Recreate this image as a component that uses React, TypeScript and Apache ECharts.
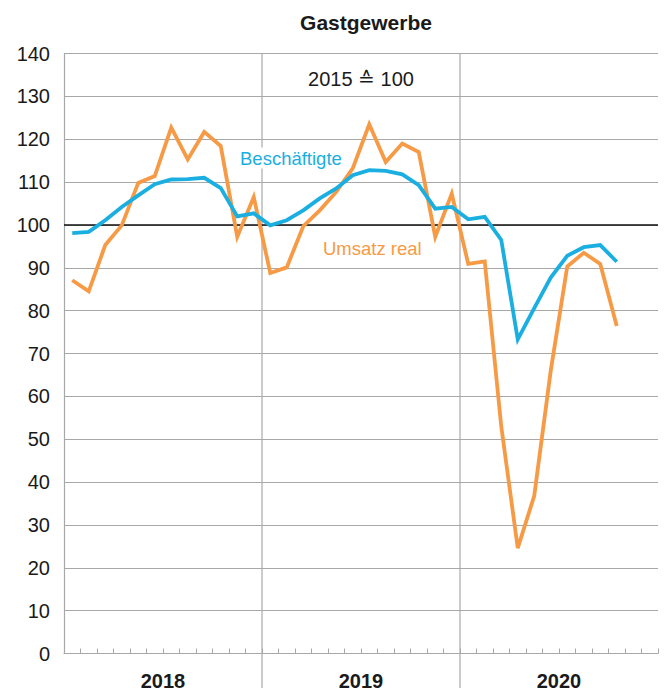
import React, { useEffect, useRef } from "react";
import * as echarts from "echarts";

const months = [
  "Jan 18", "Feb 18", "Mär 18", "Apr 18", "Mai 18", "Jun 18", "Jul 18", "Aug 18", "Sep 18", "Okt 18", "Nov 18", "Dez 18",
  "Jan 19", "Feb 19", "Mär 19", "Apr 19", "Mai 19", "Jun 19", "Jul 19", "Aug 19", "Sep 19", "Okt 19", "Nov 19", "Dez 19",
  "Jan 20", "Feb 20", "Mär 20", "Apr 20", "Mai 20", "Jun 20", "Jul 20", "Aug 20", "Sep 20", "Okt 20", "Nov 20", "Dez 20",
];
const years = ["2018", "2019", "2020"];

const beschaeftigte = [
  98.1, 98.4, 101.1, 104.2, 106.9, 109.5, 110.6, 110.7, 111.0, 108.6, 102.0, 102.7,
  99.9, 101.1, 103.4, 106.2, 108.5, 111.6, 112.8, 112.6, 111.8, 109.3, 103.8, 104.2,
  101.3, 101.9, 96.5, 73.3, 80.6, 87.7, 92.8, 94.8, 95.3, 91.4,
];
const umsatzReal = [
  87.1, 84.5, 95.3, 99.9, 109.8, 111.4, 122.7, 115.3, 121.7, 118.4, 97.2, 106.5,
  88.8, 90.1, 99.7, 103.4, 107.7, 113.2, 123.5, 114.7, 119.0, 117.0, 97.2, 107.3,
  90.9, 91.5, 53.0, 24.6, 36.8, 66.0, 90.3, 93.5, 90.9, 76.4,
];

const yMin = 0;
const yMax = 140;
const yStep = 10;
const baseLine = 100;

const W = 667;
const H = 695;
const GL = 64;
const GR = 9;
const GT = 53.5;
const GB = 41.5;

const BLUE = "#1aafe0";
const ORANGE = "#f79a45";
const GRID = "#a8a8a8";
const FONT = "'Liberation Sans', Arial, Helvetica, sans-serif";

export default function App() {
  const ref = useRef<HTMLDivElement>(null);

  useEffect(() => {
    if (!ref.current) return;
    const chart = echarts.init(ref.current, null, { renderer: "svg", width: W, height: H });
    const plotW = W - GL - GR;
    const dividers = [1, 2].map((k) => ({
      type: "line",
      shape: { x1: GL + (plotW * k) / 3, y1: GT, x2: GL + (plotW * k) / 3, y2: 688 },
      style: { stroke: GRID, lineWidth: 1.2 },
      z: 1,
      silent: true,
    }));
    chart.setOption({
      animation: false,
      backgroundColor: "#ffffff",
      textStyle: { fontFamily: FONT },
      grid: { left: GL, right: GR, top: GT, bottom: GB, containLabel: false },
      xAxis: [
        {
          type: "category",
          data: months,
          boundaryGap: true,
          axisLine: { show: true, lineStyle: { color: GRID, width: 1.2 } },
          axisTick: { show: true, inside: true, length: 5, interval: 0, lineStyle: { color: GRID, width: 1 } },
          axisLabel: { show: false },
          splitLine: { show: false },
          z: 2,
        },
        {
          type: "category",
          data: years,
          position: "bottom",
          boundaryGap: true,
          axisLine: { show: false },
          axisTick: { show: false },
          axisLabel: { show: true, fontSize: 20, fontWeight: "bold", color: "#1a1a1a", margin: 17, fontFamily: FONT },
          splitLine: { show: false },
        },
      ],
      yAxis: {
        type: "value",
        min: yMin,
        max: yMax,
        interval: yStep,
        axisLine: { show: true, lineStyle: { color: GRID, width: 1.2 } },
        axisTick: { show: false },
        axisLabel: { fontSize: 20, color: "#1a1a1a", margin: 14, fontFamily: FONT },
        splitLine: { show: true, lineStyle: { color: GRID, width: 1.2 } },
      },
      title: {
        text: "Gastgewerbe",
        left: GL + plotW / 2,
        textAlign: "center",
        top: 7,
        textStyle: { fontSize: 21, fontWeight: "bold", color: "#1a1a1a", fontFamily: FONT },
      },
      graphic: [
        ...dividers,
        {
          type: "text",
          x: GL + plotW / 2,
          y: 79,
          style: {
            text: "2015 \u2259 100",
            fontSize: 20,
            fill: "#1a1a1a",
            fontFamily: FONT,
            textAlign: "center",
            textVerticalAlign: "middle",
          },
          z: 10,
        },
        {
          type: "text",
          x: 238,
          y: 158,
          style: {
            text: "Besch\u00e4ftigte",
            fontSize: 18.5,
            fill: BLUE,
            fontFamily: FONT,
            textAlign: "left",
            textVerticalAlign: "middle",
            backgroundColor: "#ffffff",
            padding: [1, 2],
          },
          z: 10,
        },
        {
          type: "text",
          x: 323,
          y: 248,
          style: {
            text: "Umsatz real",
            fontSize: 18.5,
            fill: ORANGE,
            fontFamily: FONT,
            textAlign: "left",
            textVerticalAlign: "middle",
          },
          z: 10,
        },
      ],
      series: [
        {
          name: "Umsatz real",
          type: "line",
          data: umsatzReal,
          xAxisIndex: 0,
          yAxisIndex: 0,
          showSymbol: false,
          symbol: "none",
          lineStyle: { color: ORANGE, width: 3.8, join: "miter" },
          z: 4,
          markLine: {
            silent: true,
            symbol: "none",
            label: { show: false },
            lineStyle: { color: "#111111", width: 1.5, type: "solid" },
            data: [{ yAxis: baseLine }],
            z: 3,
          },
        },
        {
          name: "Beschäftigte",
          type: "line",
          data: beschaeftigte,
          xAxisIndex: 0,
          yAxisIndex: 0,
          showSymbol: false,
          symbol: "none",
          lineStyle: { color: BLUE, width: 3.8, join: "miter" },
          z: 5,
        },
      ],
    });
    return () => chart.dispose();
  }, []);

  return <div ref={ref} style={{ position: "fixed", left: 0, top: 0, width: W, height: H, background: "#fff" }} />;
}
